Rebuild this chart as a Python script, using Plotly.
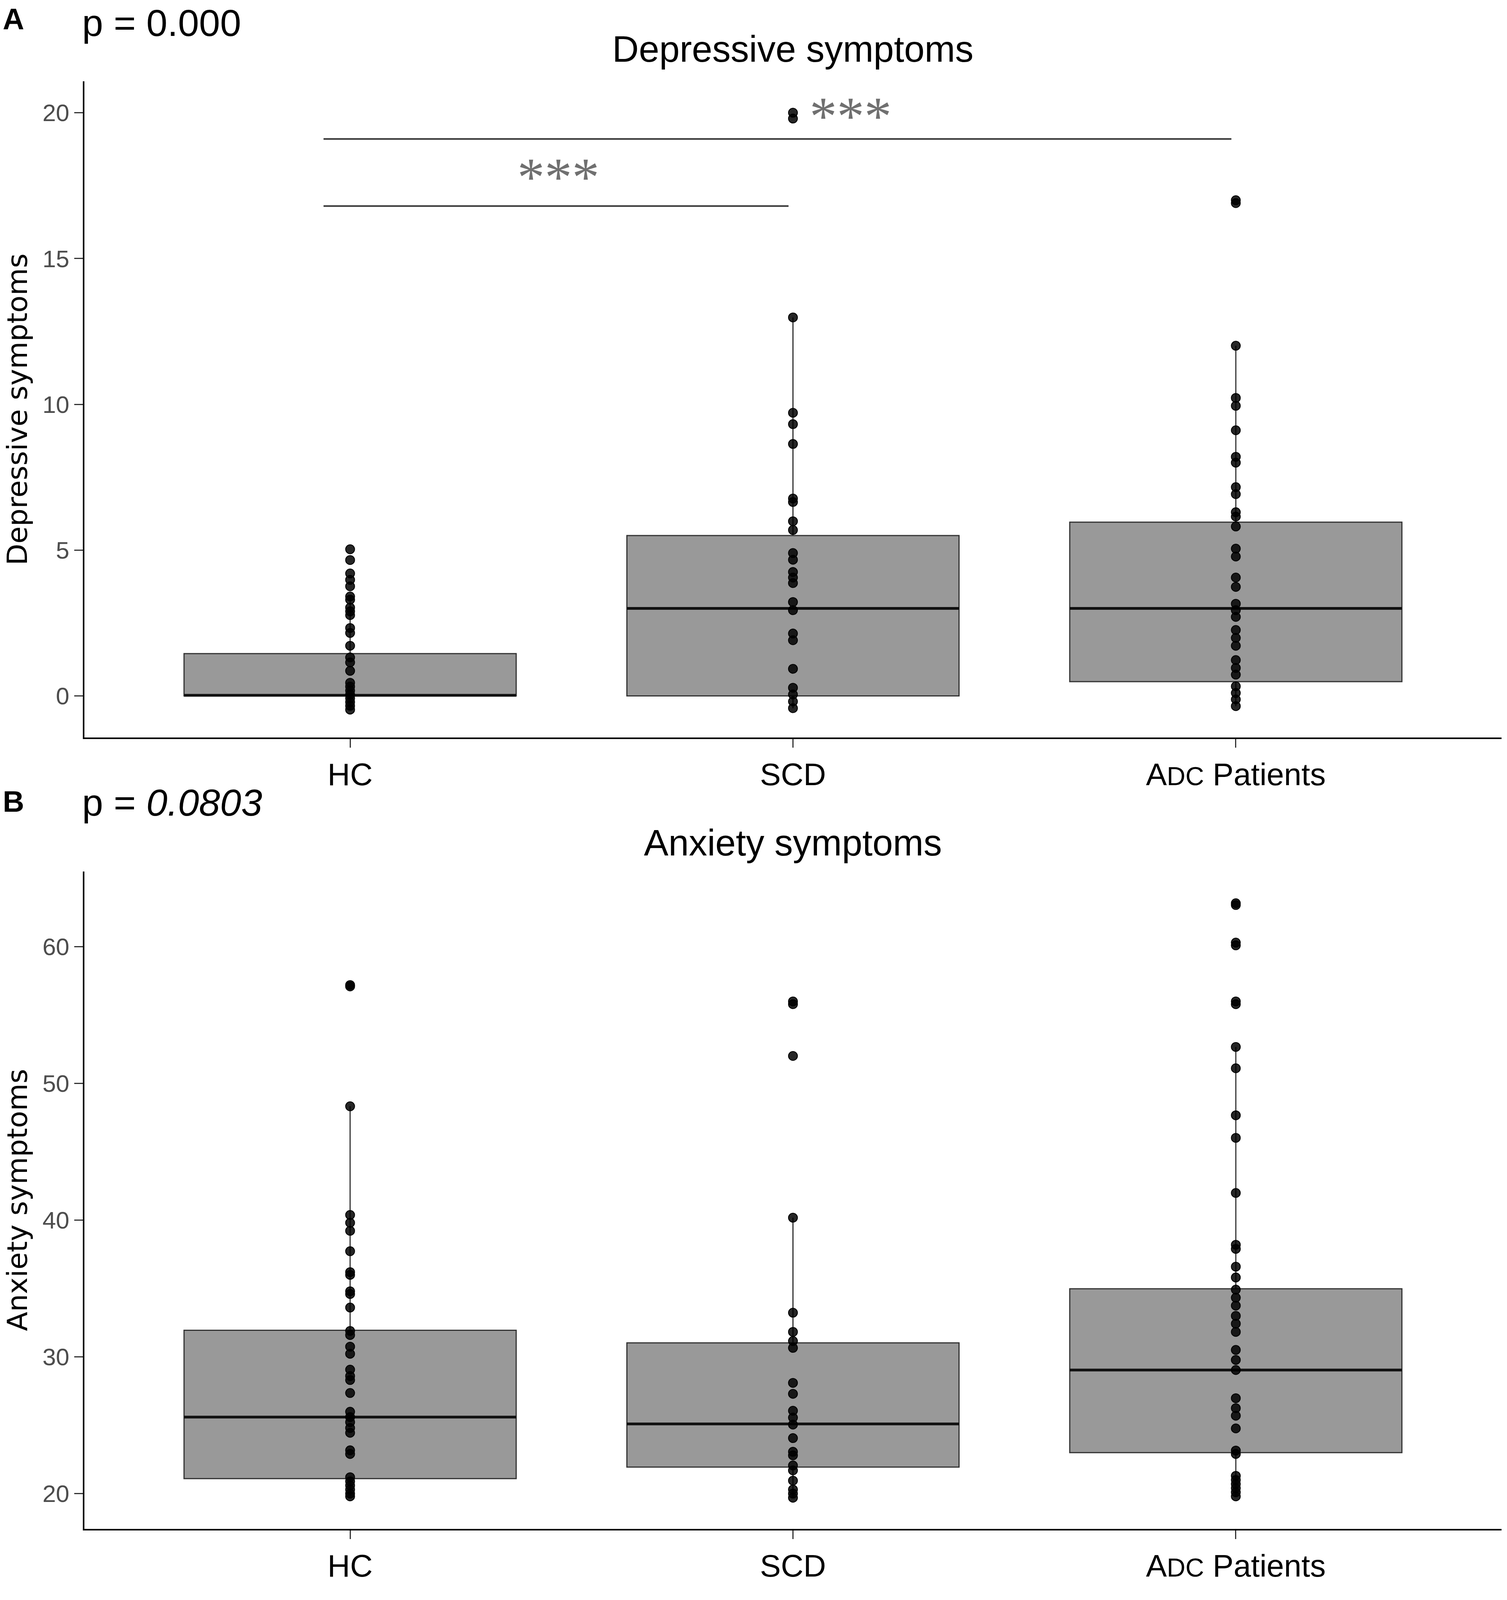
"""Depressive and anxiety symptoms by group: box plots with points."""
import plotly.graph_objects as go

# ---- data -------------------------------------------------------------
groups = ["HC", "SCD", "ADC Patients"]
group_ticktext = ["HC", "SCD", "A<span style='font-size:66px'>DC</span> Patients"]

dep_hc = [5.03, 4.66, 4.20, 3.98, 3.76, 3.41, 3.30, 3.03, 2.90, 2.77, 2.33, 2.16,
          1.72, 1.32, 1.15, 0.86, 0.45, 0.32, 0.18, 0.05, -0.08, -0.21, -0.34, -0.47]
dep_scd = [20.0, 19.8, 12.98, 9.71, 9.32, 8.64, 6.77, 6.65, 5.99, 5.69, 4.90, 4.67,
           4.25, 4.06, 3.87, 3.22, 2.94, 2.14, 1.91, 0.93, 0.28, 0.05, -0.19, -0.42]
dep_adc = [17.0, 16.9, 12.01, 10.22, 9.95, 9.11, 8.2, 8.0, 7.16, 6.92, 6.3, 6.15,
           5.81, 5.05, 4.78, 4.06, 3.74, 3.16, 2.94, 2.71, 2.26, 1.99, 1.72, 1.23,
           0.96, 0.73, 0.33, 0.10, -0.12, -0.35]
dep_q1 = [0.0, 0.0, 0.49]
dep_median = [0.02, 3.0, 3.0]
dep_q3 = [1.45, 5.5, 5.96]
dep_lower = [-0.47, -0.42, -0.35]
dep_upper = [3.41, 12.98, 12.01]

anx_hc = [57.2, 57.1, 48.33, 40.38, 39.81, 39.22, 37.73, 36.2, 36.0, 34.8, 34.6,
          33.61, 31.9, 31.6, 30.75, 30.23, 29.07, 28.6, 28.31, 27.36, 25.99, 25.6,
          25.23, 24.8, 24.45, 23.17, 22.9, 21.2, 20.9, 20.6, 20.3, 20.0, 19.8]
anx_scd = [56.0, 55.8, 52.01, 40.18, 33.23, 31.83, 31.16, 30.66, 28.1, 27.3, 26.06,
           25.56, 25.05, 24.06, 23.06, 22.8, 22.06, 21.7, 20.95, 20.3, 20.0, 19.7]
anx_adc = [63.18, 63.05, 60.3, 60.1, 56.0, 55.8, 52.67, 51.11, 47.67, 46.02, 41.99,
           38.2, 37.9, 36.6, 35.81, 34.92, 34.33, 33.75, 33.0, 32.43, 31.83, 30.51,
           29.78, 29.04, 26.98, 26.25, 25.7, 24.77, 23.15, 22.9, 21.3, 21.0, 20.7,
           20.4, 20.1, 19.8]
anx_q1 = [21.1, 21.94, 23.0]
anx_median = [25.6, 25.1, 29.04]
anx_q3 = [31.95, 31.03, 34.98]
anx_lower = [19.8, 19.7, 19.8]
anx_upper = [48.33, 40.18, 52.67]

# significance brackets (panel A)
sig_x0 = [-0.06, -0.06]
sig_x1 = [0.99, 1.99]
sig_y = [16.8, 19.1]
star_x = [0.47, 1.13]
star_y = [17.8, 19.9]
star_text = ["***", "***"]

# ---- layout constants ---------------------------------------------------
W = 3857
ML, MR, MT, MB = 216, 14, 208, 182
BOX_W = 0.75
FONT = "Liberation Sans, Arial, sans-serif"


def px_x(p):
    return (p - ML) / (W - ML - MR)


fig = go.Figure()


def add_panel(xa, ya, values, q1, med, q3, lo, hi):
    xs = list(range(len(groups)))
    fig.add_trace(go.Box(
        x=xs, q1=q1, median=med, q3=q3, lowerfence=lo, upperfence=hi,
        width=BOX_W, whiskerwidth=0, boxpoints=False,
        fillcolor="#999999", line=dict(color="#333333", width=3),
        xaxis=xa, yaxis=ya, showlegend=False, hoverinfo="skip"))
    # thicker median line as in ggplot
    mx, my = [], []
    for i, m in enumerate(med):
        mx += [i - BOX_W / 2, i + BOX_W / 2, None]
        my += [m, m, None]
    fig.add_trace(go.Scatter(x=mx, y=my, mode="lines",
                             line=dict(color="#111111", width=7),
                             xaxis=xa, yaxis=ya, showlegend=False, hoverinfo="skip"))
    px_, py_ = [], []
    for i, vals in enumerate(values):
        px_ += [i] * len(vals)
        py_ += vals
    fig.add_trace(go.Scatter(x=px_, y=py_, mode="markers",
                             marker=dict(color="rgba(0,0,0,0.85)", size=23,
                                         line=dict(color="black", width=2)),
                             xaxis=xa, yaxis=ya, showlegend=False))


add_panel("x", "y", [dep_hc, dep_scd, dep_adc], dep_q1, dep_median, dep_q3, dep_lower, dep_upper)
add_panel("x2", "y2", [anx_hc, anx_scd, anx_adc], anx_q1, anx_median, anx_q3, anx_lower, anx_upper)

# brackets
bx, by = [], []
for a, b, y in zip(sig_x0, sig_x1, sig_y):
    bx += [a, b, None]
    by += [y, y, None]
fig.add_trace(go.Scatter(x=bx, y=by, mode="lines", line=dict(color="#333333", width=4),
                         xaxis="x", yaxis="y", showlegend=False, hoverinfo="skip"))

axis_common = dict(showline=True, linecolor="black", linewidth=4, showgrid=False,
                   zeroline=False, ticks="outside", ticklen=22, tickwidth=3,
                   tickcolor="#333333")
xaxis_common = dict(axis_common, range=[-0.6, 2.6], tickvals=[0, 1, 2],
                    ticktext=group_ticktext,
                    tickfont=dict(family=FONT, size=80, color="black"))
yaxis_common = dict(axis_common, tickfont=dict(family=FONT, size=62, color="#4D4D4D"))

fig.update_layout(
    autosize=True,
    paper_bgcolor="white", plot_bgcolor="white",
    margin=dict(l=ML, r=MR, t=MT, b=MB, pad=0),
    xaxis=dict(xaxis_common, anchor="y"),
    xaxis2=dict(xaxis_common, anchor="y2"),
    yaxis=dict(yaxis_common, domain=[0.5466, 1.0], range=[-1.43, 21.08],
               tickvals=[0, 5, 10, 15, 20], anchor="x"),
    yaxis2=dict(yaxis_common, domain=[0.0, 0.4541], range=[17.42, 65.5],
                tickvals=[20, 30, 40, 50, 60], anchor="x2"),
)

ann = []
for x, y, t in zip(star_x, star_y, star_text):
    ann.append(dict(x=x, y=y, xref="x", yref="y", text=t, showarrow=False,
                    xanchor="center", yanchor="middle",
                    font=dict(family="Liberation Serif, serif", size=140, color="#707070")))


def top_texts(yref, label, ptxt, title, sh_label, sh_p, sh_title, ytitle_text, anchor):
    # offsets are pixels above the top of the panel
    ann.extend([
        dict(x=px_x(5), y=1, xref="paper", yref=yref, yshift=sh_label,
             text="<b>%s</b>" % label, showarrow=False, xanchor="left", yanchor=anchor,
             font=dict(family=FONT, size=76, color="black")),
        dict(x=px_x(208), y=1, xref="paper", yref=yref, yshift=sh_p, text=ptxt,
             showarrow=False, xanchor="left", yanchor=anchor,
             font=dict(family=FONT, size=97, color="black")),
        dict(x=0.5, y=1, xref="paper", yref=yref, yshift=sh_title, text=title,
             showarrow=False, xanchor="center", yanchor="middle",
             font=dict(family=FONT, size=94, color="black")),
        dict(x=px_x(44), y=0.5, xref="paper", yref=yref, text=ytitle_text,
             showarrow=False, xanchor="center", yanchor="middle", textangle=-90,
             font=dict(family="DejaVu Sans, sans-serif", size=72, color="black")),
    ])


# panel A labels sit at the very top of the page: anchor their top just inside it
top_texts("y domain", "A", "p = 0.000", "Depressive symptoms", 204, 206, 83,
          "Depressive symptoms", "top")
top_texts("y2 domain", "B", "p = <i>0.0803</i>", "Anxiety symptoms", 180, 177, 74,
          "Anxiety symptoms", "middle")

fig.update_layout(annotations=ann)

# fit the figure to the visible window so nothing is cut off
fit_js = """
document.body.style.margin = '0';
document.body.style.overflow = 'hidden';
var gd = document.getElementById('{plot_id}');
Plotly.relayout(gd, {width: window.innerWidth, height: window.innerHeight});
"""
fig.write_html("out.html", post_script=fit_js, default_width="100%", default_height="100%",
               config={"displayModeBar": False})
